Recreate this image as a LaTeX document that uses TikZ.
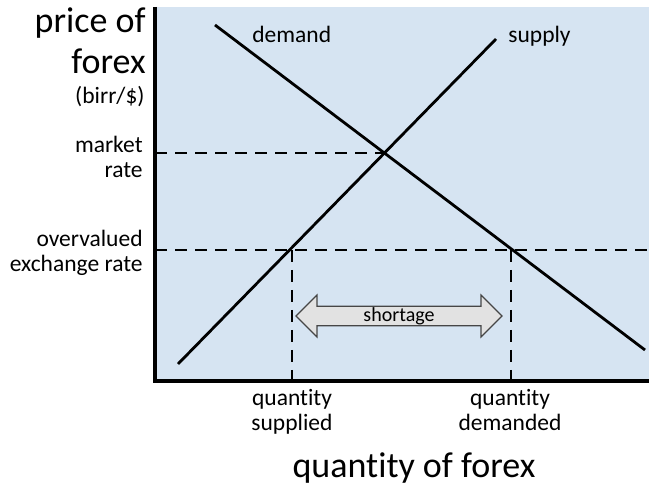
\documentclass[tikz,border=0pt]{standalone}
\usepackage{fontspec}
\setmainfont{Carlito}[Ligatures=NoCommon]
\usepackage{tikz}
\usetikzlibrary{positioning, shapes.arrows, arrows.meta}
\definecolor{plotbg}{RGB}{214,228,242}
\definecolor{arrowbg}{RGB}{226,226,226}
\definecolor{arrowln}{RGB}{70,70,70}
\tikzstyle{curve} = [line width=1.4pt, black]
\tikzstyle{guide} = [line width=1.4pt, black, dash pattern=on 6pt off 4pt]

\begin{document}
\begin{tikzpicture}[
  x=0.5pt, y=-0.5pt,
  big/.style={font=\fontsize{18}{20.5}\selectfont, inner sep=0pt},
  lbl/.style={font=\fontsize{11.75}{12.5}\selectfont, inner sep=0pt},
  axis/.style={line width=1.7pt, black},
  gap/.style={double arrow, draw=arrowln, fill=arrowbg, line width=0.6pt,
              minimum width=21pt, minimum height=103pt, inner sep=0pt,
              double arrow head extend=5.25pt,
              font=\fontsize{10}{12}\selectfont}
]
\useasboundingbox (0,0) rectangle (649,485);
\fill[plotbg] (155,7) rectangle (649,381);
% points on the axes and curves
\coordinate (top) at (155,7);
\coordinate (orig) at (155,381);
\coordinate (xend) at (649,381);
\coordinate (d0) at (215,25);
\coordinate (d1) at (645,350);
\coordinate (s0) at (178,364);
\coordinate (s1) at (496,39);
\coordinate (eq) at (384.4,153);
\coordinate (pm) at (155,153);
\coordinate (po) at (155,250);
\coordinate (pe) at (649,250);
\coordinate (qsp) at (292,250);
\coordinate (qdp) at (511,250);
\coordinate (qsx) at (292,381);
\coordinate (qdx) at (511,381);
% guide lines
\draw[guide] (pm) -- (eq);
\draw[guide] (po) -- (pe);
\draw[guide] (qsp) -- (qsx);
\draw[guide] (qdp) -- (qdx);
% demand and supply
\draw[curve] (d0) -- (d1);
\draw[curve] (s0) -- (s1);
\draw[axis] (top) -- (orig) -- (xend);
% labels (base = last line)
\node[big, anchor=base east, align=right] (ytitle) at (146,74) {price of\\forex};
\node[lbl, anchor=base east] (unit) at (145,104) {(birr/\$)};
\node[lbl, anchor=base east, align=right] (mrate) at (143,178) {market\\rate};
\node[lbl, anchor=base east, align=right] (orate) at (143,272) {overvalued\\exchange rate};
\node[lbl, anchor=base west] (dlab) at (252,43) {demand};
\node[lbl, anchor=base west] (slab) at (508,43) {supply};
\node[lbl, anchor=base, align=center] (qslab) at (292,431) {quantity\\supplied};
\node[lbl, anchor=base, align=center] (qdlab) at (510,431) {quantity\\demanded};
\node[big, anchor=base] (xtitle) at (414,478) {quantity of forex};
\node[gap] (short) at (399,316) {shortage};
\end{tikzpicture}
\end{document}
